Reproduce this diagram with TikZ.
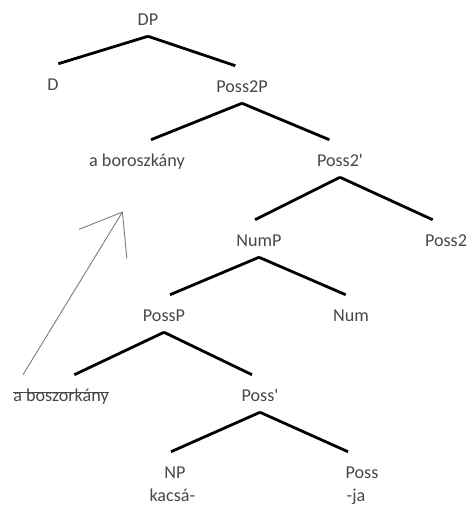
\documentclass[tikz,border=0pt]{standalone}
\usepackage{fontspec}
\setmainfont{Carlito}
\usetikzlibrary{arrows.meta,positioning}
\definecolor{txtgray}{HTML}{474747}
\definecolor{mvgray}{HTML}{7F7F7F}

\begin{document}
\begin{tikzpicture}[x=0.75pt, y=-0.75pt, on grid,
  lab/.style={text=txtgray, font=\fontsize{13.6}{16}\selectfont, inner xsep=2pt, inner ysep=2pt, text height=17.5pt, text depth=6.25pt},
  br/.style={line width=2.1pt},
  strk/.style={txtgray, line width=0.8pt, shorten <=2pt, shorten >=2pt},
  mv/.style={mvgray, line width=0.7pt, -{Straight Barb[length=28pt, width=42pt]}, shorten >=30pt}
]
  \useasboundingbox (0,0) rectangle (469,507);

  \node[lab] (dp) at (148,17.5) {DP};
  \node[lab, below left=48.75pt and 71.25pt of dp] (d) {D};
  \node[lab, below right=50.25pt and 70.5pt of dp] (poss2p) {Poss2P};
  \node[lab, below left=55.5pt and 78.75pt of poss2p] (aboro) {a boroszkány};
  \node[lab, below right=55.5pt and 73.5pt of poss2p] (poss2bar) {Poss2\textquotesingle};
  \node[lab, below left=60pt and 60.75pt of poss2bar] (nump) {NumP};
  \node[lab, below right=60pt and 79.5pt of poss2bar] (poss2) {Poss2};
  \node[lab, below left=56.25pt and 71.25pt of nump] (possp) {PossP};
  \node[lab, below right=56.25pt and 69pt of nump] (num) {Num};
  \node[lab, below left=60pt and 77.25pt of possp] (bosz) {a boszorkány};
  \node[lab, below right=60pt and 72pt of possp] (possbar) {Poss\textquotesingle};
  \node[lab, below left=57.75pt and 63.75pt of possbar] (np) {NP};
  \node[lab, below right=57.75pt and 76.5pt of possbar] (poss) {Poss};
  \node[lab, below=17.25pt of np, xshift=-2pt] (kacsa) {kacsá-};
  \node[lab, below=17.25pt of poss, xshift=-4.5pt] (ja) {-ja};

  \draw[br] (dp.south) -- ([xshift=4pt]d.north);
  \draw[br] (dp.south) -- ([xshift=-5pt]poss2p.north);
  \draw[br] (poss2p.south) -- ([xshift=10.5pt]aboro.north);
  \draw[br] (poss2p.south) -- ([xshift=-8pt]poss2bar.north);
  \draw[br] (poss2bar.south) -- ([xshift=-3pt]nump.north);
  \draw[br] (poss2bar.south) -- ([xshift=-10pt]poss2.north);
  \draw[br] (nump.south) -- ([xshift=4.5pt]possp.north);
  \draw[br] (nump.south) -- ([xshift=-4pt]num.north);
  \draw[br] (possp.south) -- ([xshift=10pt]bosz.north);
  \draw[br] (possp.south) -- ([xshift=-6pt]possbar.north);
  \draw[br] (possbar.south) -- ([xshift=-3pt]np.north);
  \draw[br] (possbar.south) -- ([xshift=-10.5pt]poss.north);

  % crossed-out trace
  \draw[strk] ([yshift=0.8pt]bosz.west) -- ([yshift=0.8pt]bosz.east);

  % movement
  \draw[mv] ([xshift=9.5pt]bosz.north west) -- ([xshift=5pt]aboro.south);
\end{tikzpicture}
\end{document}
